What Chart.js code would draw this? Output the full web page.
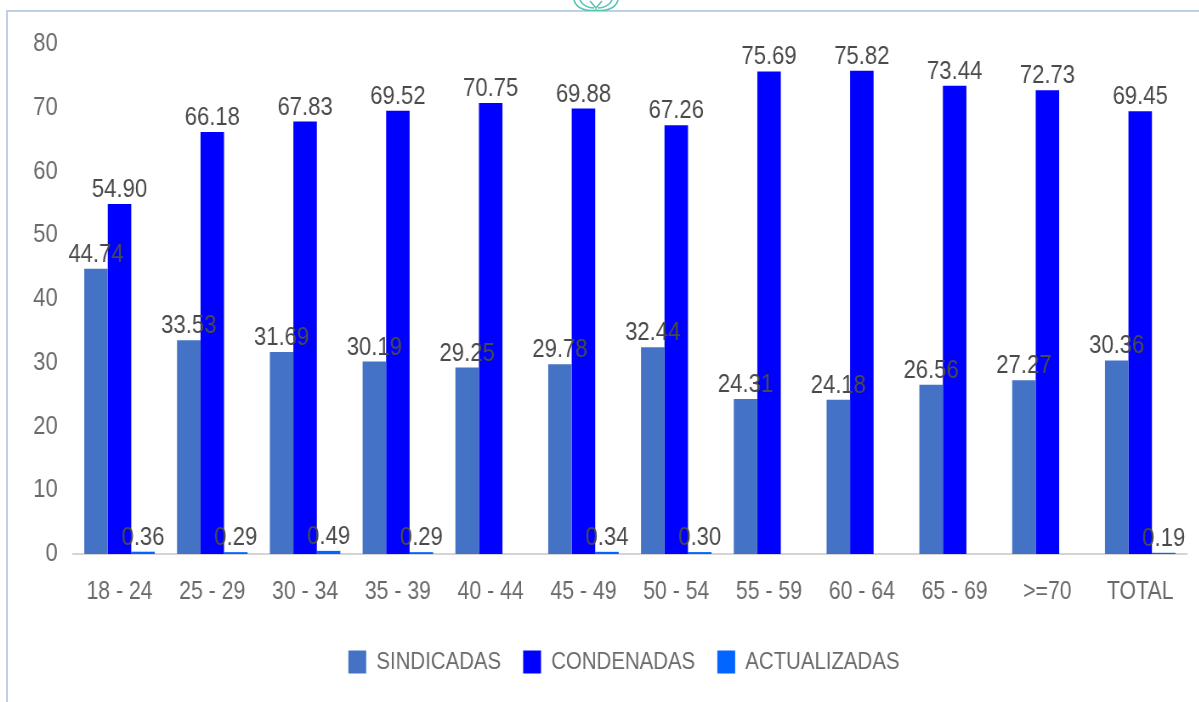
<!DOCTYPE html>
<html>
<head>
<meta charset="utf-8">
<style>
  html, body { margin: 0; padding: 0; background: #fff; overflow: hidden; }
  #wrap { position: relative; width: 1199px; height: 702px; overflow: hidden; }
  /* reference text is squeezed sideways, so the whole canvas is drawn wider and scaled back */
  #chart { position: absolute; left: 0; top: 0; transform-origin: 0 0; transform: scaleX(0.85); filter: blur(0.5px); }
  #frameTop { position: absolute; left: 6px; top: 10px; width: 1193px; height: 2px; background: #bdd0e6; }
  #frameLeft { position: absolute; left: 6px; top: 10px; width: 2px; height: 692px; background: #bdd0e6; }
  #logo { position: absolute; left: 570px; top: 0; }
</style>
</head>
<body>
<div id="wrap">
  <canvas id="chart" width="1411" height="702"></canvas>
  <div id="frameTop"></div>
  <div id="frameLeft"></div>
  <svg id="logo" width="52" height="11" viewBox="0 0 52 11" fill="none" stroke="#5cc4b4" stroke-width="1.6">
    <path d="M4 0 C6 8 16 12 26 10 C36 12 46 8 48 0"/>
    <path d="M10 0 C12 5 18 8 24 8"/>
    <path d="M42 0 C40 5 34 8 28 8"/>
    <path d="M20 1 L26 8 L32 1"/>
  </svg>
</div>
<script src="https://cdn.jsdelivr.net/npm/chart.js@4"></script>
<script>
const categories = ["18 - 24", "25 - 29", "30 - 34", "35 - 39", "40 - 44", "45 - 49", "50 - 54", "55 - 59", "60 - 64", "65 - 69", ">=70", "TOTAL"];
const sindicadas = [44.74, 33.53, 31.69, 30.19, 29.25, 29.78, 32.44, 24.31, 24.18, 26.56, 27.27, 30.36];
const condenadas = [54.90, 66.18, 67.83, 69.52, 70.75, 69.88, 67.26, 75.69, 75.82, 73.44, 72.73, 69.45];
const actualizadas = [0.36, 0.29, 0.49, 0.29, null, 0.34, 0.30, null, null, null, null, 0.19];
const yTicks = [0, 10, 20, 30, 40, 50, 60, 70, 80];

const FONT = '"Liberation Sans", sans-serif';
const GREY = "#6a6a6a";

// value labels sit over the bars, so they are drawn after the datasets
const valueLabels = {
  id: "valueLabels",
  afterLayout(chart) {
    // legend sits a little left of the plot centre
    chart.legend.left -= 7;
    chart.legend.right -= 7;
  },
  afterDatasetsDraw(chart) {
    const ctx = chart.ctx;
    ctx.save();
    ctx.font = "26px " + FONT;
    ctx.fillStyle = "#4a4a4a";
    ctx.textAlign = "center";
    ctx.textBaseline = "alphabetic";
    chart.data.datasets.forEach((ds, i) => {
      chart.getDatasetMeta(i).data.forEach((bar, j) => {
        if (ds.data[j] == null) return;
        ctx.fillText(ds.data[j].toFixed(2), bar.x, bar.y - 7);
      });
    });
    ctx.restore();
  }
};

new Chart(document.getElementById("chart"), {
  type: "bar",
  data: {
    labels: categories,
    datasets: [
      { label: "SINDICADAS", data: sindicadas, backgroundColor: "#4472c4" },
      { label: "CONDENADAS", data: condenadas, backgroundColor: "#0000ff" },
      { label: "ACTUALIZADAS", data: actualizadas, backgroundColor: "#0066ff" }
    ]
  },
  options: {
    responsive: false,
    animation: false,
    layout: { padding: { left: 0, right: 15, top: 44, bottom: 18 } },
    datasets: { bar: { categoryPercentage: 0.76, barPercentage: 1 } },
    plugins: {
      tooltip: { enabled: false },
      legend: {
        position: "bottom",
        fullSize: false,
        labels: {
          font: { family: FONT, size: 24 },
          color: GREY,
          boxWidth: 21,
          boxHeight: 23,
          padding: 26
        }
      }
    },
    scales: {
      x: {
        afterFit: s => { s.height = 70; },
        grid: { display: false },
        border: { color: "#d4d4d4", width: 2 },
        ticks: { font: { family: FONT, size: 25 }, color: GREY, maxRotation: 0, padding: 15 }
      },
      y: {
        min: 0,
        max: 80,
        afterFit: s => { s.width = 86; },
        afterBuildTicks: s => { s.ticks = yTicks.map(v => ({ value: v })); },
        grid: { display: false, drawTicks: false },
        border: { display: false },
        ticks: { font: { family: FONT, size: 26 }, color: GREY, padding: 18 }
      }
    }
  },
  plugins: [valueLabels]
});
</script>
</body>
</html>
